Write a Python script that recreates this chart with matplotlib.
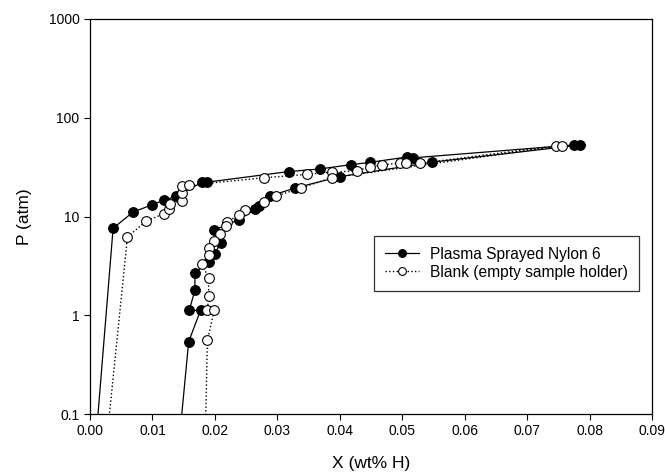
import numpy as np
import matplotlib.pyplot as plt
from matplotlib.ticker import FixedLocator, NullLocator

plt.rcParams['font.family'] = ['Liberation Sans', 'DejaVu Sans']

# Plasma sprayed nylon 6: absorption then desorption
nylon_x = [0.0000, 0.0037, 0.0069, 0.0099, 0.0118, 0.0138, 0.0180, 0.0188,
           0.0318, 0.0368, 0.0418, 0.0448, 0.0507, 0.0518, 0.0775, 0.0785,
           0.0548, 0.0400, 0.0329, 0.0288, 0.0270, 0.0264, 0.0239, 0.0199,
           0.0209, 0.0200, 0.0191, 0.0168, 0.0168, 0.0159, 0.0177, 0.0158,
           0.0132]
nylon_p = [0.01, 7.6, 11.1, 13.1, 14.6, 16.0, 22.3, 22.3,
           28.5, 30.3, 33.5, 35.3, 40.0, 39.3, 53.0, 53.0,
           35.5, 25.3, 19.5, 16.1, 12.7, 11.8, 9.3, 7.3,
           5.4, 4.2, 3.5, 2.7, 1.8, 1.12, 1.12, 0.54,
           0.01]

# Blank (empty sample holder)
blank_x = [0.0015, 0.0060, 0.0090, 0.0119, 0.0127, 0.0128, 0.0148, 0.0148,
           0.0147, 0.0159, 0.0279, 0.0348, 0.0387, 0.0428, 0.0448, 0.0467,
           0.0497, 0.0506, 0.0528, 0.0747, 0.0756,
           0.0387, 0.0338, 0.0298, 0.0279, 0.0248, 0.0238, 0.0219, 0.0218,
           0.0208, 0.0199, 0.0190, 0.0190, 0.0179, 0.0190, 0.0190, 0.0188,
           0.0199, 0.0188, 0.0182]
blank_p = [0.01, 6.2, 9.0, 10.7, 12.0, 13.3, 14.3, 17.2,
           20.3, 20.8, 24.7, 26.7, 28.2, 28.9, 32.0, 33.0,
           35.0, 34.5, 34.5, 52.0, 52.0,
           24.7, 19.5, 16.1, 14.0, 11.6, 10.4, 8.7, 8.0,
           6.7, 5.6, 4.8, 4.1, 3.3, 2.4, 1.55, 1.12,
           1.12, 0.56, 0.01]

x_ticks = [0.00, 0.01, 0.02, 0.03, 0.04, 0.05, 0.06, 0.07, 0.08, 0.09]
y_ticks = [0.1, 1, 10, 100, 1000]
y_labels = ['0.1', '1', '10', '100', '1000']

fig = plt.figure(figsize=(6.65, 4.74), dpi=100)
ax = fig.add_axes([90 / 665, 60 / 474, 562 / 665, 395 / 474])

ax.plot(nylon_x, nylon_p, '-', color='black', lw=0.9, marker='o', ms=7,
        mfc='black', mec='black', mew=0.8, label='Plasma Sprayed Nylon 6')
ax.plot(blank_x, blank_p, ':', color='black', lw=1.0, marker='o', ms=7,
        mfc='white', mec='black', mew=0.8, label='Blank (empty sample holder)')

ax.set_yscale('log')
ax.set_xlim(0, 0.09)
ax.set_ylim(0.1, 1000)
ax.xaxis.set_major_locator(FixedLocator(x_ticks))
ax.set_xticklabels([f'{v:.2f}' for v in x_ticks])
ax.yaxis.set_major_locator(FixedLocator(y_ticks))
ax.yaxis.set_minor_locator(NullLocator())
ax.set_yticklabels(y_labels)
ax.tick_params(axis='both', direction='out', length=4, width=0.8,
               labelsize=10, top=False, right=False)
for sp in ax.spines.values():
    sp.set_linewidth(0.9)

ax.set_xlabel('X (wt% H)', fontsize=12.5, labelpad=13)
ax.set_ylabel('P (atm)', fontsize=12.5, labelpad=12)

leg = ax.legend(loc='upper left', bbox_to_anchor=(0.505, 0.451),
                borderaxespad=0, fontsize=11.2, markerscale=0.8,
                frameon=True, fancybox=False, edgecolor='black',
                handlelength=2.2, borderpad=0.7, labelspacing=0.2,
                handletextpad=0.7)
leg.get_frame().set_linewidth(0.9)

fig.savefig('out.png', dpi=100)
